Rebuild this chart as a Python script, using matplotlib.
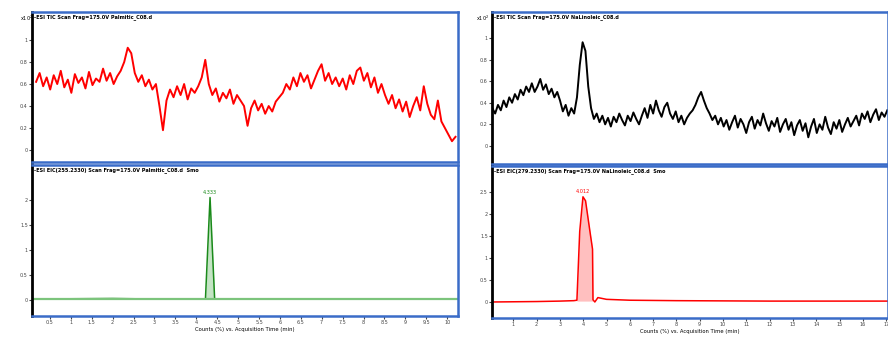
import numpy as np
import matplotlib.pyplot as plt

# TIC traces (counts x10^2)
tic_left = [0.62, 0.70, 0.58, 0.66, 0.55, 0.68, 0.60, 0.72, 0.57, 0.64, 0.52, 0.69,
            0.61, 0.66, 0.56, 0.71, 0.59, 0.65, 0.62, 0.74, 0.63, 0.70, 0.60, 0.67,
            0.72, 0.80, 0.93, 0.88, 0.70, 0.62, 0.68, 0.58, 0.64, 0.55, 0.60,
            0.40, 0.18, 0.45, 0.55, 0.48, 0.58, 0.50, 0.60, 0.46, 0.56, 0.52,
            0.58, 0.66, 0.82, 0.60, 0.50, 0.56, 0.44, 0.52, 0.47, 0.55, 0.42, 0.50, 0.45, 0.40,
            0.22, 0.38, 0.45, 0.36, 0.42, 0.33, 0.40, 0.35, 0.44, 0.48,
            0.52, 0.60, 0.55, 0.66, 0.58, 0.70, 0.62, 0.68, 0.56, 0.64, 0.72, 0.78,
            0.63, 0.70, 0.60, 0.66,
            0.58, 0.65, 0.55, 0.68, 0.60, 0.72, 0.75, 0.63, 0.70, 0.57, 0.66, 0.52, 0.60, 0.50,
            0.42, 0.50, 0.38, 0.46, 0.35, 0.44, 0.30, 0.40, 0.48, 0.36, 0.58, 0.42,
            0.32, 0.28, 0.45, 0.26,
            0.20, 0.14, 0.08, 0.12]
tic_right = [0.35, 0.30, 0.38, 0.33, 0.42, 0.36, 0.45, 0.40, 0.48, 0.43, 0.52, 0.47, 0.55, 0.50,
             0.58, 0.50, 0.55, 0.62, 0.52, 0.57, 0.48, 0.53, 0.45, 0.50, 0.42,
             0.32, 0.38, 0.28, 0.35, 0.30, 0.45,
             0.75, 0.96, 0.88, 0.55, 0.35,
             0.25, 0.30, 0.22, 0.28, 0.20, 0.26, 0.18, 0.27, 0.22, 0.30, 0.24, 0.19,
             0.28, 0.23, 0.31, 0.25, 0.20,
             0.28, 0.35, 0.26, 0.38, 0.30, 0.42, 0.33, 0.27, 0.36, 0.40, 0.30, 0.25,
             0.32, 0.22, 0.28, 0.20, 0.26, 0.30,
             0.33, 0.38, 0.45, 0.50, 0.42, 0.35, 0.30, 0.24, 0.28, 0.20, 0.26,
             0.18, 0.24, 0.15, 0.22, 0.28, 0.17, 0.25, 0.20, 0.12, 0.22, 0.27, 0.16,
             0.24, 0.19, 0.30, 0.21, 0.14, 0.23, 0.18, 0.26, 0.13, 0.20, 0.25, 0.15,
             0.22, 0.10, 0.19, 0.24,
             0.14, 0.21, 0.08, 0.18, 0.25, 0.12, 0.20, 0.15, 0.27, 0.17, 0.11, 0.22,
             0.16, 0.24, 0.13, 0.20, 0.26, 0.18,
             0.23, 0.28, 0.19, 0.30, 0.25, 0.32, 0.22, 0.29, 0.34, 0.24, 0.31, 0.27, 0.33]
t_tic_left = np.linspace(0.17, 10.2, len(tic_left))
t_tic_right = np.linspace(0.1, 17.05, len(tic_right))

# EIC traces
eic_left_t = [0.1, 2.0, 3.0, 4.0, 4.22, 4.33, 4.44, 5.0, 7.0, 10.3]
eic_left_y = [0.02, 0.03, 0.02, 0.02, 0.02, 2.05, 0.02, 0.02, 0.02, 0.02]
eic_right_t = [0.1, 2.0, 3.0, 3.6, 3.73, 3.85, 3.99, 4.1, 4.29, 4.40, 4.42, 4.5,
               4.63, 5.0, 6.0, 8.0, 12.0, 17.1]
eic_right_y = [0.0, 0.01, 0.02, 0.03, 0.04, 1.6, 2.39, 2.3, 1.6, 1.2, 0.05, 0.0,
               0.1, 0.06, 0.04, 0.03, 0.02, 0.02]

W, H = 888, 340
fig = plt.figure(figsize=(W / 100, H / 100), dpi=100)
blue = '#3a6cc8'


def make_ax(x0, x1, y0, y1):
    ax = fig.add_axes([x0 / W, 1 - y1 / H, (x1 - x0) / W, (y1 - y0) / H])
    for s in ax.spines.values():
        s.set_color(blue)
        s.set_linewidth(1.8)
    ax.spines['left'].set_color('black')
    ax.spines['left'].set_linewidth(2)
    ax.tick_params(labelsize=3.5, length=2, width=0.8, pad=1, colors='#444444')
    return ax


def style_title(ax, text):
    ax.text(0.005, 0.985, text, transform=ax.transAxes, fontsize=3.6,
            fontweight='bold', va='top', ha='left')


# left panel
ax1 = make_ax(32, 458, 12, 162)
ax1.plot(t_tic_left, tic_left, color='red', lw=1.4)
ax1.set_xlim(0.072, 10.26)
ax1.set_ylim(-0.109, 1.255)
ax1.set_yticks([0, 0.2, 0.4, 0.6, 0.8, 1])
ax1.set_yticklabels(['0', '0.2', '0.4', '0.6', '0.8', '1'])
ax1.set_xticks([])
style_title(ax1, '-ESI TIC Scan Frag=175.0V Palmitic_C08.d')
fig.text(20 / W, 1 - 18 / H, 'x10$^2$', fontsize=3.6, ha='left', va='center')

ax2 = make_ax(32, 458, 165, 316)
ax2.fill_between(eic_left_t, eic_left_y, 0.02, color='#9ed29e', alpha=0.6, lw=0)
ax2.plot(eic_left_t, eic_left_y, color='#1a8a1a', lw=1.1)
ax2.axhline(0.02, color='#7cc47c', lw=1.6)
ax2.set_xlim(0.072, 10.26)
ax2.set_ylim(-0.32, 2.7)
ax2.set_yticks([0, 0.5, 1, 1.5, 2])
ax2.set_yticklabels(['0', '0.5', '1', '1.5', '2'])
ax2.set_xticks(np.arange(0.5, 10.01, 0.5))
ax2.set_xticklabels(['%g' % v for v in np.arange(0.5, 10.01, 0.5)])
ax2.set_xlabel('Counts (%) vs. Acquisition Time (min)', fontsize=3.8, labelpad=1)
ax2.text(4.33, 2.1, '4.333', color='#1a8a1a', fontsize=3.6, ha='center', va='bottom')
style_title(ax2, '-ESI EIC(255.2330) Scan Frag=175.0V Palmitic_C08.d  Smo')

# right panel
ax3 = make_ax(492, 888, 12, 164)
ax3.plot(t_tic_right, tic_right, color='black', lw=1.4)
ax3.set_xlim(0.086, 17.08)
ax3.set_ylim(-0.167, 1.24)
ax3.set_yticks([0, 0.2, 0.4, 0.6, 0.8, 1])
ax3.set_yticklabels(['0', '0.2', '0.4', '0.6', '0.8', '1'])
ax3.set_xticks([])
style_title(ax3, '-ESI TIC Scan Frag=175.0V NaLinoleic_C08.d')
fig.text(476 / W, 1 - 18 / H, 'x10$^2$', fontsize=3.6, ha='left', va='center')

ax4 = make_ax(492, 888, 166, 318)
mask_t = [t for t in eic_right_t if 3.73 <= t <= 4.42]
mask_y = [y for t, y in zip(eic_right_t, eic_right_y) if 3.73 <= t <= 4.42]
ax4.fill_between(mask_t, mask_y, 0.02, color='#ffb0b0', alpha=0.8, lw=0)
ax4.plot(eic_right_t, eic_right_y, color='red', lw=1.1)
ax4.set_xlim(0.086, 17.08)
ax4.set_ylim(-0.364, 3.09)
ax4.set_yticks([0, 0.5, 1, 1.5, 2, 2.5])
ax4.set_yticklabels(['0', '0.5', '1', '1.5', '2', '2.5'])
ax4.set_xticks(range(1, 18))
ax4.set_xlabel('Counts (%) vs. Acquisition Time (min)', fontsize=3.8, labelpad=1)
ax4.text(3.99, 2.45, '4.012', color='red', fontsize=3.6, ha='center', va='bottom')
style_title(ax4, '-ESI EIC(279.2330) Scan Frag=175.0V NaLinoleic_C08.d  Smo')

fig.savefig('out.png', dpi=100)
